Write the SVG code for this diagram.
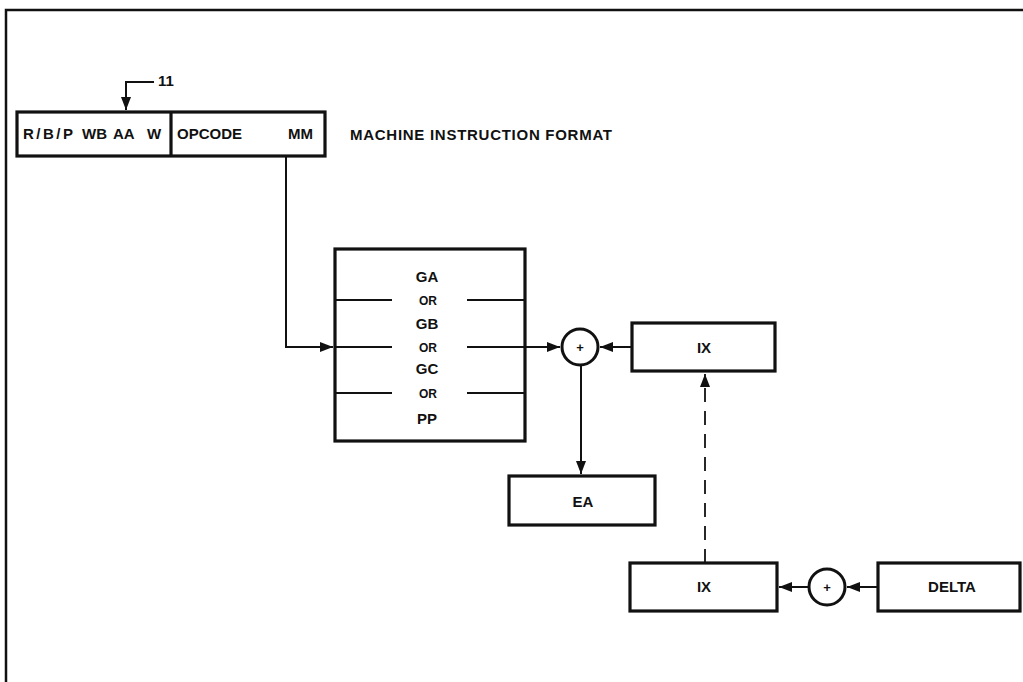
<svg xmlns="http://www.w3.org/2000/svg" width="1023" height="682" viewBox="0 0 1023 682">
<style>
.bg{fill:#fff}
.frame{fill:none;stroke:#111;stroke-width:2.5}
.box{fill:#fff;stroke:#111;stroke-width:3.2}
.div{fill:none;stroke:#111;stroke-width:3.2}
.circ{fill:#fff;stroke:#111;stroke-width:3}
.ln{fill:none;stroke:#111;stroke-width:2}
.dash{fill:none;stroke:#111;stroke-width:1.8;stroke-dasharray:14 9}
.t{font-family:"Liberation Sans",Arial,Helvetica,sans-serif;font-weight:bold;font-size:15px;fill:#111}
.s{font-family:"Liberation Sans",Arial,Helvetica,sans-serif;font-weight:bold;font-size:12px;fill:#111}
.p{font-family:"Liberation Sans",Arial,Helvetica,sans-serif;font-weight:bold;font-size:13px;fill:#111}
.c{text-anchor:middle}
</style>
<defs>
<marker id="ah" markerUnits="userSpaceOnUse" markerWidth="14" markerHeight="11" refX="13" refY="5" orient="auto">
<path d="M0,0 L13,5 L0,10 z" fill="#111"/>
</marker>
</defs>
<rect class="bg" x="0" y="0" width="1023" height="682"/>
<path class="frame" d="M6,682 L6,10 L1023,10"/>

<g id="instruction-format">
<rect class="box" x="17" y="112" width="308" height="44"/>
<line class="div" x1="171" y1="112" x2="171" y2="156"/>
<text class="t" x="23" y="139" textLength="50" lengthAdjust="spacing">R/B/P</text>
<text class="t" x="82" y="139">WB</text>
<text class="t" x="113" y="139">AA</text>
<text class="t" x="147" y="139">W</text>
<text class="t" x="177" y="139">OPCODE</text>
<text class="t" x="288" y="139">MM</text>
</g>

<g id="format-label">
<text class="t" x="350" y="140" textLength="262" lengthAdjust="spacing">MACHINE INSTRUCTION FORMAT</text>
</g>

<g id="register-select">
<rect class="box" x="335" y="249" width="190" height="192"/>
<line class="ln" x1="335" y1="300" x2="392" y2="300"/>
<line class="ln" x1="467" y1="300" x2="525" y2="300"/>
<line class="ln" x1="335" y1="347" x2="392" y2="347"/>
<line class="ln" x1="467" y1="347" x2="525" y2="347"/>
<line class="ln" x1="335" y1="393" x2="392" y2="393"/>
<line class="ln" x1="467" y1="393" x2="525" y2="393"/>
<text class="t c" x="427" y="282">GA</text>
<text class="s c" x="428" y="305">OR</text>
<text class="t c" x="427" y="329">GB</text>
<text class="s c" x="428" y="352">OR</text>
<text class="t c" x="427" y="374">GC</text>
<text class="s c" x="428" y="398">OR</text>
<text class="t c" x="427" y="424">PP</text>
</g>

<g id="adder-1">
<circle class="circ" cx="580" cy="347" r="18"/>
<text class="p c" x="580" y="352">+</text>
</g>

<g id="ix-1">
<rect class="box" x="632" y="323" width="143" height="48"/>
<text class="t c" x="704" y="353">IX</text>
</g>

<g id="ea">
<rect class="box" x="509" y="476" width="146" height="49"/>
<text class="t c" x="583" y="507">EA</text>
</g>

<g id="ix-2">
<rect class="box" x="630" y="563" width="147" height="48"/>
<text class="t c" x="704" y="592">IX</text>
</g>

<g id="adder-2">
<circle class="circ" cx="827" cy="587" r="18"/>
<text class="p c" x="827" y="592">+</text>
</g>

<g id="delta">
<rect class="box" x="878" y="563" width="142" height="48"/>
<text class="t c" x="952" y="592">DELTA</text>
</g>

<g id="connectors">
<path class="ln" d="M154,82 L126,82 L126,110" marker-end="url(#ah)"/>
<text class="t" x="158" y="86">11</text>
<path class="ln" d="M286,156 L286,347 L333,347" marker-end="url(#ah)"/>
<line class="ln" x1="525" y1="347" x2="560" y2="347" marker-end="url(#ah)"/>
<line class="ln" x1="632" y1="347" x2="600" y2="347" marker-end="url(#ah)"/>
<line class="ln" x1="581" y1="365" x2="581" y2="474" marker-end="url(#ah)"/>
<line class="dash" x1="705" y1="563" x2="705" y2="374" marker-end="url(#ah)"/>
<line class="ln" x1="878" y1="587" x2="847" y2="587" marker-end="url(#ah)"/>
<line class="ln" x1="809" y1="587" x2="779" y2="587" marker-end="url(#ah)"/>
</g>
</svg>
